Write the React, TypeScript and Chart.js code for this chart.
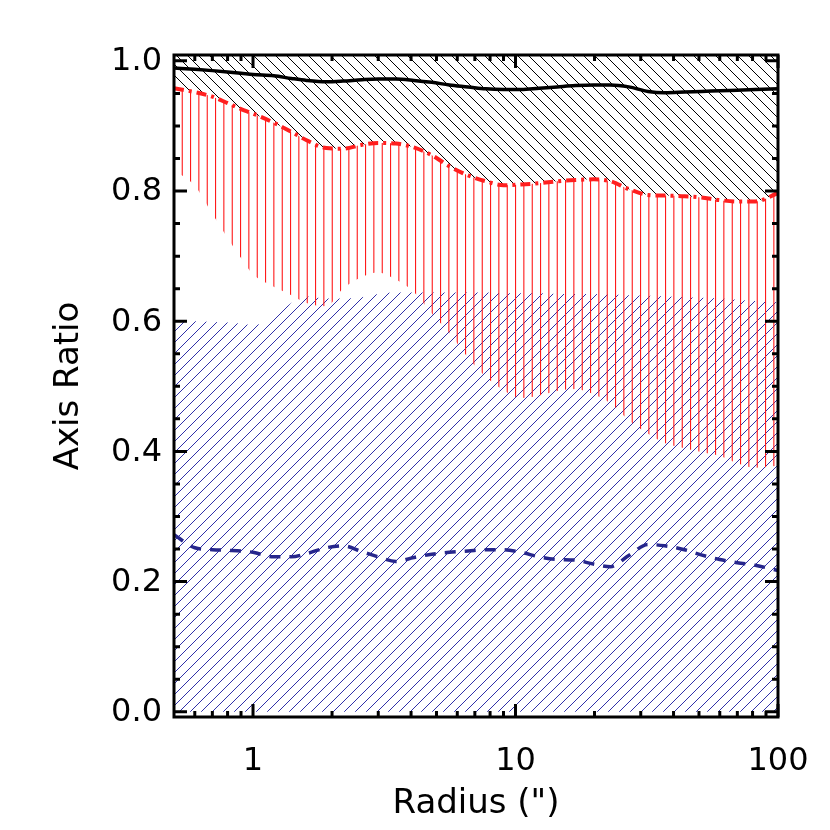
import React, { useEffect, useRef } from "react";
import { Chart, registerables } from "chart.js";

Chart.register(...registerables);

// Radius grid (arcsec)
const radius = [0.5, 0.6, 0.7, 0.8, 0.9, 1.0, 1.2, 1.4, 1.6, 1.9, 2.2, 2.6, 3.0, 3.5, 4.1, 4.8, 5.6, 6.6, 7.7, 9.0, 10.5, 12.3, 14.4, 16.9, 19.8, 23, 27, 32, 37, 44, 51, 60, 70, 82, 100];

// Black solid line
const blackLine = [0.989, 0.987, 0.985, 0.983, 0.981, 0.979, 0.977, 0.973, 0.970, 0.968, 0.969, 0.971, 0.972, 0.972, 0.970, 0.967, 0.963, 0.960, 0.957, 0.956, 0.956, 0.958, 0.960, 0.962, 0.963, 0.963, 0.960, 0.953, 0.951, 0.952, 0.953, 0.954, 0.955, 0.956, 0.957];

// Red dash-dot line (also the lower edge of the black band)
const redLine = [0.958, 0.952, 0.945, 0.935, 0.926, 0.919, 0.905, 0.891, 0.878, 0.866, 0.865, 0.871, 0.874, 0.873, 0.867, 0.855, 0.838, 0.824, 0.815, 0.809, 0.810, 0.812, 0.815, 0.817, 0.818, 0.815, 0.803, 0.794, 0.793, 0.792, 0.790, 0.786, 0.784, 0.784, 0.797];

// Lower edge of the red band
const redLower = [0.832, 0.808, 0.765, 0.728, 0.697, 0.672, 0.653, 0.640, 0.628, 0.623, 0.650, 0.668, 0.675, 0.664, 0.645, 0.612, 0.582, 0.544, 0.515, 0.494, 0.482, 0.486, 0.493, 0.496, 0.488, 0.474, 0.448, 0.427, 0.413, 0.405, 0.399, 0.393, 0.382, 0.375, 0.378];

// Upper edge of the blue band (lower edge is 0)
const blueUpper = [0.600, 0.600, 0.599, 0.598, 0.596, 0.594, 0.606, 0.628, 0.638, 0.635, 0.635, 0.637, 0.642, 0.644, 0.644, 0.644, 0.644, 0.644, 0.644, 0.643, 0.643, 0.643, 0.642, 0.642, 0.642, 0.641, 0.640, 0.639, 0.638, 0.637, 0.636, 0.635, 0.633, 0.631, 0.629];

// Blue dashed line
const blueLine = [0.272, 0.252, 0.249, 0.248, 0.247, 0.245, 0.238, 0.238, 0.243, 0.252, 0.255, 0.246, 0.238, 0.231, 0.237, 0.242, 0.245, 0.247, 0.249, 0.249, 0.245, 0.238, 0.234, 0.233, 0.227, 0.223, 0.240, 0.257, 0.255, 0.249, 0.241, 0.234, 0.229, 0.225, 0.217];

// Axis ticks
const yMajorTicks = [0, 0.2, 0.4, 0.6, 0.8, 1.0];
const yTickLabels = ["0.0", "0.2", "0.4", "0.6", "0.8", "1.0"];
const yMinorTicks = [0.05, 0.1, 0.15, 0.25, 0.3, 0.35, 0.45, 0.5, 0.55, 0.65, 0.7, 0.75, 0.85, 0.9, 0.95];
const xMajorTicks = [1, 10, 100];
const xTickLabels = ["1", "10", "100"];
const xMinorTicks = [0.6, 0.7, 0.8, 0.9, 2, 3, 4, 5, 6, 7, 8, 9, 20, 30, 40, 50, 60, 70, 80, 90];

const FONT = "'DejaVu Sans', 'Liberation Sans', sans-serif";

function makeDiag(color: string, dir: "back" | "fwd", s: number) {
  const c = document.createElement("canvas");
  c.width = s;
  c.height = s;
  const g = c.getContext("2d")!;
  g.strokeStyle = color;
  g.lineWidth = 1;
  g.beginPath();
  for (let k = -1; k <= 1; k++) {
    if (dir === "back") {
      g.moveTo(k * s, 0);
      g.lineTo(k * s + s, s);
    } else {
      g.moveTo(k * s, s);
      g.lineTo(k * s + s, 0);
    }
  }
  g.stroke();
  return g.createPattern(c, "repeat")!;
}

function makeVertical(color: string) {
  const c = document.createElement("canvas");
  c.width = 25;
  c.height = 4;
  const g = c.getContext("2d")!;
  g.fillStyle = color;
  [6.7, 15, 23.3].forEach((x) => g.fillRect(x, 0, 1.1, 4));
  return g.createPattern(c, "repeat")!;
}

const axesPlugin = {
  id: "idlAxes",
  afterDraw(chart: any) {
    const { ctx, chartArea: a, scales } = chart;
    const xs = scales.x;
    const ys = scales.y;
    ctx.save();
    ctx.strokeStyle = "#000";
    ctx.lineWidth = 3;
    ctx.beginPath();
    const seg = (px: number, py: number, dx: number, dy: number) => {
      ctx.moveTo(px, py);
      ctx.lineTo(px + dx, py + dy);
    };
    yMajorTicks.forEach((v) => {
      const p = ys.getPixelForValue(v);
      seg(a.left, p, 13, 0);
      seg(a.right, p, -13, 0);
    });
    yMinorTicks.forEach((v) => {
      const p = ys.getPixelForValue(v);
      seg(a.left, p, 6, 0);
      seg(a.right, p, -6, 0);
    });
    xMajorTicks.forEach((v) => {
      const p = xs.getPixelForValue(v);
      seg(p, a.bottom, 0, -13);
      seg(p, a.top, 0, 13);
    });
    xMinorTicks.forEach((v) => {
      const p = xs.getPixelForValue(v);
      seg(p, a.bottom, 0, -6);
      seg(p, a.top, 0, 6);
    });
    ctx.stroke();
    ctx.strokeRect(a.left, a.top, a.right - a.left, a.bottom - a.top);

    ctx.fillStyle = "#000";
    ctx.font = `32px ${FONT}`;
    ctx.textAlign = "right";
    ctx.textBaseline = "middle";
    yMajorTicks.forEach((v, i) => {
      ctx.fillText(yTickLabels[i], a.left - 12, ys.getPixelForValue(v) + 1);
    });
    ctx.textAlign = "center";
    ctx.textBaseline = "alphabetic";
    xMajorTicks.forEach((v, i) => {
      ctx.fillText(xTickLabels[i], xs.getPixelForValue(v), a.bottom + 53);
    });

    ctx.font = `34px ${FONT}`;
    ctx.fillText('Radius (")', (a.left + a.right) / 2, a.bottom + 96);
    ctx.save();
    ctx.translate(78, (a.top + a.bottom) / 2);
    ctx.rotate(-Math.PI / 2);
    ctx.fillText("Axis Ratio", 0, 0);
    ctx.restore();
    ctx.restore();
  },
};

export default function App() {
  const ref = useRef<HTMLCanvasElement | null>(null);
  useEffect(() => {
    if (!ref.current) return;
    const pts = (vals: number[]) => radius.map((r, i) => ({ x: r, y: vals[i] }));
    const base = {
      pointRadius: 0,
      cubicInterpolationMode: "monotone" as const,
    };
    const chart = new Chart(ref.current, {
      type: "line",
      data: {
        datasets: [
          {
            ...base,
            label: "black",
            data: pts(blackLine),
            borderColor: "#000000",
            borderWidth: 3.5,
            fill: false,
          },
          {
            ...base,
            label: "red",
            data: pts(redLine),
            borderColor: "#ff1f1f",
            borderWidth: 4,
            borderDash: [10, 5, 3, 5],
            fill: false,
          },
          {
            ...base,
            label: "blue",
            data: pts(blueLine),
            borderColor: "#26268c",
            borderWidth: 3.5,
            borderDash: [11, 9],
            fill: false,
          },
          {
            ...base,
            label: "black band",
            data: pts(redLine),
            borderWidth: 0,
            borderColor: "rgba(0,0,0,0)",
            backgroundColor: makeDiag("#000000", "back", 11),
            fill: "end",
          },
          {
            ...base,
            label: "red band",
            data: pts(redLower),
            borderWidth: 0,
            borderColor: "rgba(0,0,0,0)",
            backgroundColor: makeVertical("#ff1a1a"),
            fill: 1,
          },
          {
            ...base,
            label: "blue band",
            data: pts(blueUpper),
            borderWidth: 0,
            borderColor: "rgba(0,0,0,0)",
            backgroundColor: makeDiag("#3030a8", "fwd", 11),
            fill: "origin",
          },
        ],
      },
      options: {
        animation: false,
        responsive: false,
        devicePixelRatio: 1,
        layout: { padding: { left: 174, right: 52, top: 55, bottom: 113 } },
        plugins: { legend: { display: false }, tooltip: { enabled: false } },
        scales: {
          x: { type: "logarithmic", min: 0.5, max: 100, display: false },
          y: { type: "linear", min: -0.008, max: 1.009, display: false },
        },
      },
      plugins: [axesPlugin],
    });
    return () => chart.destroy();
  }, []);
  return (
    <div style={{ position: "absolute", left: 0, top: 0, width: 830, height: 830, background: "#fff" }}>
      <canvas ref={ref} width={830} height={830} style={{ width: 830, height: 830 }} />
    </div>
  );
}
